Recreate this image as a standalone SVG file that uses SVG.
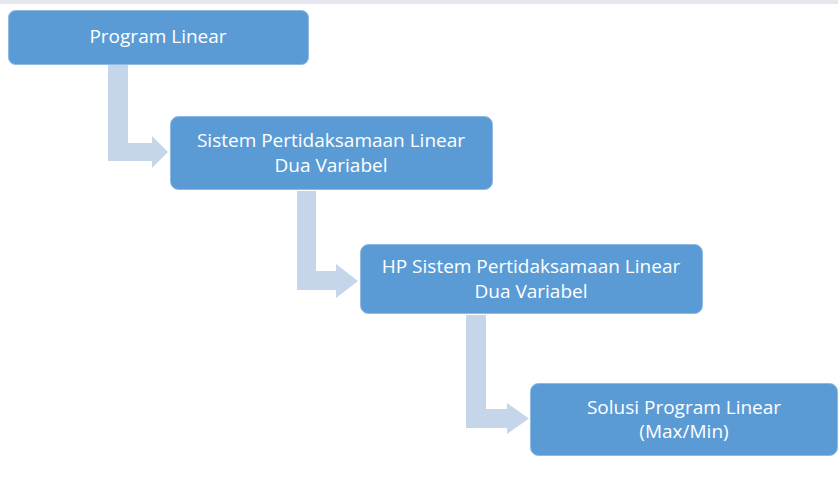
<svg xmlns="http://www.w3.org/2000/svg" width="838" height="480" viewBox="0 0 838 480">
<style>
.box{fill:#5b9bd5;stroke:#8fbbe3;stroke-width:1}
.arr{fill:#c5d6eb}
.t{font-family:"Open Sans","Liberation Sans",sans-serif;font-size:19px;fill:#ffffff;text-anchor:middle}
</style>
<rect x="0" y="0" width="838" height="480" fill="#ffffff"/>
<rect x="0" y="0" width="838" height="4" fill="#e6e6ef"/>
<g id="connectors">
<path class="arr" d="M108,65 H128 V143 H152 V136 L168,152 L152,168 V161 H108 Z"/>
<path class="arr" d="M297,191 H316 V271 H336 V264 L358,281 L336,298 V290 H297 Z"/>
<path class="arr" d="M466,315 H486 V409 H507 V403 L529,418.5 L507,434 V428 H466 Z"/>
</g>
<g id="n1">
<rect class="box" x="8.5" y="10.5" width="300" height="54" rx="7"/>
<text class="t" x="158" y="43">Program Linear</text>
</g>
<g id="n2">
<rect class="box" x="170.5" y="116.5" width="322" height="73" rx="8"/>
<text class="t" x="331" y="147">Sistem Pertidaksamaan Linear</text>
<text class="t" x="331" y="172">Dua Variabel</text>
</g>
<g id="n3">
<rect class="box" x="360.5" y="244.5" width="342" height="69" rx="8"/>
<text class="t" x="531" y="273">HP Sistem Pertidaksamaan Linear</text>
<text class="t" x="531" y="298">Dua Variabel</text>
</g>
<g id="n4">
<rect class="box" x="530.5" y="383.5" width="307" height="72" rx="8"/>
<text class="t" x="684" y="414">Solusi Program Linear</text>
<text class="t" x="684" y="438">(Max/Min)</text>
</g>
</svg>
